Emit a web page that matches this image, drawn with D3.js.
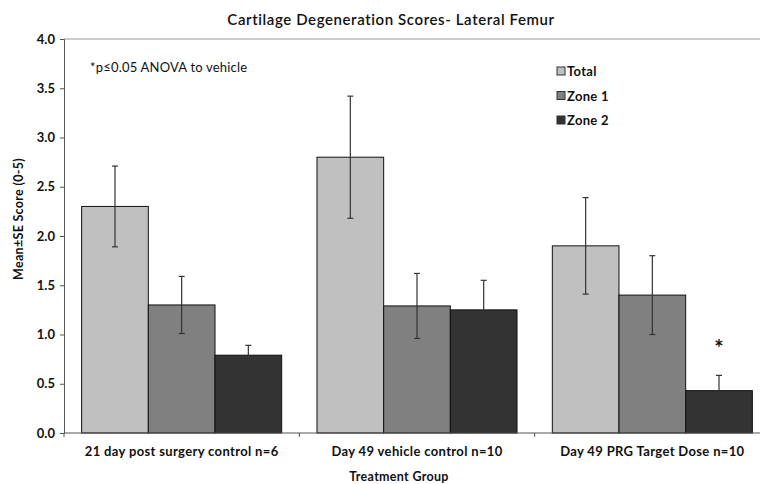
<!DOCTYPE html>
<html lang="en">
<head>
  <meta charset="utf-8" />
  <style>
    body { margin: 0; background: #fff; }
    text { font-family: "Century Gothic", "URW Gothic", Lato, "DejaVu Sans", sans-serif; fill: #111; }
    .bar { stroke: #111; stroke-width: 1px; }
    .err { stroke: #333; stroke-width: 1.2px; }
  </style>
</head>
<body>
<svg width="760" height="484"></svg>
<script src="https://d3js.org/d3.v7.min.js"></script>
<script>
var groups = ["21 day post surgery control n=6", "Day 49 vehicle control n=10", "Day 49 PRG Target Dose n=10"],
    series = ["Total", "Zone 1", "Zone 2"],
    colors = ["#c0c0c0", "#808080", "#333333"],
    totalMean = [2.30, 2.80, 1.90],
    totalSE = [0.41, 0.62, 0.49],
    zone1Mean = [1.30, 1.29, 1.40],
    zone1SE = [0.29, 0.33, 0.40],
    zone2Mean = [0.79, 1.25, 0.43],
    zone2SE = [0.10, 0.30, 0.155],
    yTicks = [0, 0.5, 1, 1.5, 2, 2.5, 3, 3.5, 4],
    significant = [[2, 2]]; // [group, series]

var means = [totalMean, zone1Mean, zone2Mean],
    ses = [totalSE, zone1SE, zone2SE];

var svg = d3.select("svg"),
    plotLeft = 64,
    plotRight = 770,
    plotTop = 39,
    plotBottom = 433;

var x0 = d3.scaleBand().domain(groups).range([plotLeft, plotRight]).paddingInner(0.15).paddingOuter(0.075),
    x1 = d3.scaleBand().domain(series).range([0, x0.bandwidth()]),
    y = d3.scaleLinear().domain([0, 4]).range([plotBottom, plotTop]);

// top border line
svg.append("line")
  .attr("x1", plotLeft).attr("x2", 760)
  .attr("y1", y(4)).attr("y2", y(4))
  .attr("stroke", "#999");

// bars
var rows = [];
groups.forEach(function(g, gi) {
  series.forEach(function(s, si) {
    rows.push({ g: g, s: s, si: si, m: means[si][gi], se: ses[si][gi] });
  });
});

svg.selectAll(".bar")
  .data(rows)
  .enter().append("rect")
  .attr("class", "bar")
  .attr("x", function(d) { return x0(d.g) + x1(d.s); })
  .attr("y", function(d) { return y(d.m); })
  .attr("width", x1.bandwidth())
  .attr("height", function(d) { return y(0) - y(d.m); })
  .attr("fill", function(d) { return colors[d.si]; });

// error bars
var eb = svg.selectAll(".eb")
  .data(rows)
  .enter().append("g")
  .attr("class", "err")
  .attr("transform", function(d) { return "translate(" + (x0(d.g) + x1(d.s) + x1.bandwidth() / 2) + ",0)"; });

eb.append("line")
  .attr("y1", function(d) { return y(d.m + d.se); })
  .attr("y2", function(d) { return y(d.m - d.se); });
eb.append("line")
  .attr("x1", -3).attr("x2", 3)
  .attr("y1", function(d) { return y(d.m + d.se); })
  .attr("y2", function(d) { return y(d.m + d.se); });
eb.append("line")
  .attr("x1", -3).attr("x2", 3)
  .attr("y1", function(d) { return y(d.m - d.se); })
  .attr("y2", function(d) { return y(d.m - d.se); });

// significance star
svg.selectAll(".star")
  .data(significant)
  .enter().append("text")
  .attr("x", function(d) { return x0(groups[d[0]]) + x1(series[d[1]]) + x1.bandwidth() / 2; })
  .attr("y", function(d) { return y(means[d[1]][d[0]] + ses[d[1]][d[0]]) - 19; })
  .attr("text-anchor", "middle")
  .attr("font-size", 22)
  .attr("font-weight", "bold")
  .attr("font-family", "DejaVu Sans")
  .text("*");

// y axis
var yAxis = svg.append("g")
  .attr("transform", "translate(" + plotLeft + ",0)")
  .call(d3.axisLeft(y).tickValues(yTicks).tickFormat(d3.format(".1f")).tickSize(4).tickPadding(5));
yAxis.selectAll("path, line").attr("stroke", "#555");
yAxis.selectAll("text").attr("font-size", 13).attr("font-weight", "bold").attr("fill", "#111")
  .attr("font-family", "\"Century Gothic\", \"URW Gothic\", Lato, sans-serif");

// x axis
var xAxis = svg.append("g")
  .attr("transform", "translate(0," + plotBottom + ")");
xAxis.append("line").attr("x1", plotLeft).attr("x2", 760).attr("stroke", "#555");
var edges = [plotLeft].concat(groups.map(function(g) { return x0(g) + x0.bandwidth() + x0.step() * x0.paddingInner() / 2; }));
xAxis.selectAll(".tk")
  .data(edges)
  .enter().append("line")
  .attr("x1", function(d) { return d; }).attr("x2", function(d) { return d; })
  .attr("y1", 0).attr("y2", 4)
  .attr("stroke", "#555");
xAxis.selectAll(".lbl")
  .data(groups)
  .enter().append("text")
  .attr("x", function(d) { return x0(d) + x0.bandwidth() / 2; })
  .attr("y", 23)
  .attr("text-anchor", "middle")
  .attr("font-size", 13)
  .attr("letter-spacing", 0.35)
  .attr("font-weight", "bold")
  .text(function(d) { return d; });

// titles
svg.append("text")
  .attr("x", 391).attr("y", 25)
  .attr("text-anchor", "middle")
  .attr("font-size", 15)
  .attr("letter-spacing", 0.6)
  .attr("font-weight", 600)
  .text("Cartilage Degeneration Scores- Lateral Femur");

svg.append("text")
  .attr("x", 399).attr("y", 481)
  .attr("text-anchor", "middle")
  .attr("font-size", 12.5)
  .attr("letter-spacing", 0.3)
  .attr("font-weight", "bold")
  .text("Treatment Group");

svg.append("text")
  .attr("transform", "translate(23,219) rotate(-90)")
  .attr("text-anchor", "middle")
  .attr("font-size", 12.5)
  .attr("letter-spacing", 0.3)
  .attr("font-weight", "bold")
  .text("Mean\u00b1SE Score (0-5)");

svg.append("text")
  .attr("x", 90).attr("y", 72)
  .attr("font-size", 13)
  .attr("letter-spacing", 0.2)
  .attr("fill", "#333")
  .text("*p\u22640.05 ANOVA to vehicle");

// legend
var lg = svg.selectAll(".lg")
  .data(series)
  .enter().append("g")
  .attr("transform", function(d, i) { return "translate(557," + (71 + i * 24.5) + ")"; });
lg.append("rect")
  .attr("x", 0).attr("y", -4).attr("width", 8).attr("height", 8)
  .attr("fill", function(d, i) { return colors[i]; })
  .attr("stroke", "#333");
lg.append("text")
  .attr("x", 10).attr("y", 5)
  .attr("font-size", 13)
  .attr("letter-spacing", 0.3)
  .attr("font-weight", "bold")
  .text(function(d) { return d; });
</script>
</body>
</html>
